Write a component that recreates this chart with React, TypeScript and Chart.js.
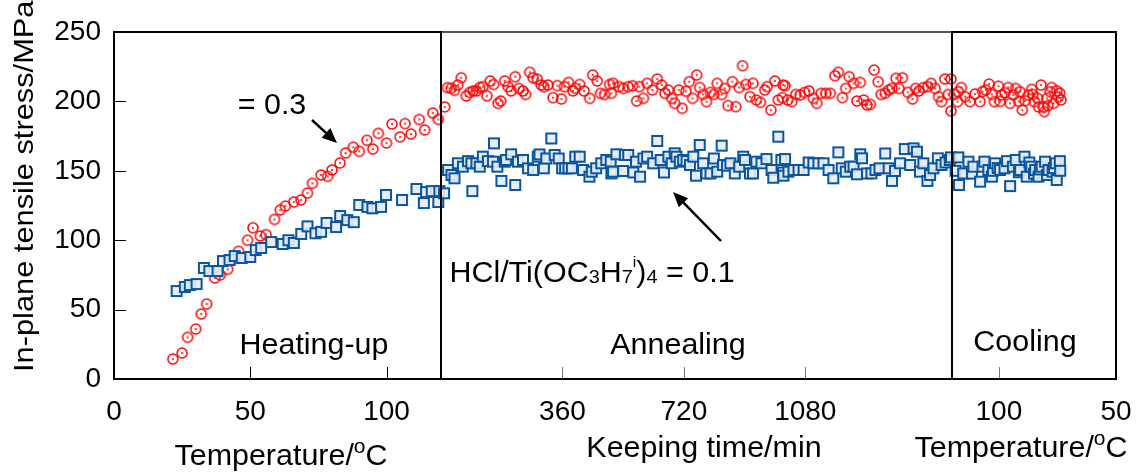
import React, { useEffect, useRef } from 'react';
import { Chart, registerables } from 'chart.js';

Chart.register(...registerables);

const FONT = '"Liberation Sans", Arial, Helvetica, sans-serif';

// ---- axis segments ----
const heatTempMax = 120; // heating-up: 0 -> 120 °C
const annealMinutes = 1515; // annealing: 0 -> 1515 min
const coolTempStart = 120; // cooling: 120 -> 50 °C
const coolTempEnd = 50;
const segW = [327, 511, 164];
const TOTAL = segW[0] + segW[1] + segW[2];

const hx = (T: number) => (T / heatTempMax) * segW[0];
const ax = (t: number) => segW[0] + (t / annealMinutes) * segW[1];
const cx = (T: number) => segW[0] + segW[1] + ((coolTempStart - T) / (coolTempStart - coolTempEnd)) * segW[2];

const xTickLabels = ['0', '50', '100', '360', '720', '1080', '100', '50'];
const xTickValues = [hx(0), hx(50), hx(100), ax(360), ax(720), ax(1080), cx(100), cx(50)];
const yTicks = [0, 50, 100, 150, 200, 250];

// ---- data: HCl/Ti(OC3H7i)4 = 0.3 (red circles) ----
const heatRed: [number, number][] = [
  [21.6, 14.4], [25, 18.7], [27, 30], [30, 36], [32, 46.8], [34, 54], [37, 72.8], [39, 75], [41.7, 79],
  [44, 86.5], [45.7, 92], [49, 100], [51, 109], [53.7, 103], [55.8, 104], [58.9, 115], [61, 121.8],
  [62.9, 124.6], [66, 127.5], [68.6, 129], [71, 134], [72.8, 141], [76, 147], [78.4, 146], [80, 150.6],
  [82.9, 155.6], [85, 162.8], [87.8, 167], [90, 164], [92.8, 172], [95, 165.7], [97, 177], [100, 170],
  [102, 183.7], [105, 174.4], [106.8, 184], [109, 176.5], [112, 187], [114, 179.4], [117, 191.6], [119, 187],
];
const annealRed: [number, number][] = [
  [11, 196], [19, 209.9], [30, 209.4], [40, 208], [50, 211.8], [60, 217], [75, 203.9], [85, 206.5], [95, 207.5],
  [105, 207.5], [115, 210], [124, 210.6], [136, 204], [146, 214.7], [156, 212.2], [169, 198.6], [177, 200.3],
  [189, 214.7], [199, 210.6], [208, 207.5], [220, 217.8], [231, 209.3], [243, 207.5], [251, 205], [263, 221],
  [273, 217], [285, 216], [297, 211.8], [305, 210.6], [317, 211.8], [332, 202.7], [345, 211.4], [357, 201.7],
  [366, 210.6], [378, 213.7], [391, 207.5], [398, 209.4], [411, 212.2], [424, 207.5], [441, 202.2], [450, 219],
  [463, 214.7], [473, 205.8], [485, 205], [500, 212.2], [505, 205.8], [510, 213], [528, 210.6], [540, 209.3],
  [555, 210.6], [568, 211.3], [580, 200.3], [588, 210.6], [600, 202.2], [611, 213], [627, 208.2], [641, 216.1],
  [654, 211.8], [664, 205.8], [674, 208.2], [684, 202.2], [693, 198.6], [705, 208.2], [715, 195], [726, 207.3],
  [736, 214.2], [746, 202.2], [758, 219], [767, 210], [777, 205], [787, 199.8], [799, 206.5], [809, 205],
  [819, 213], [832, 205], [841, 209.3], [851, 197], [864, 214.2], [874, 196.2], [884, 210], [894, 225.7],
  [904, 212.2], [916, 203.4], [925, 213], [935, 201], [947, 199.3], [960, 208.2], [967, 210.6], [978, 193.8],
  [990, 214.7], [1000, 201], [1012, 202.7], [1014, 211.8], [1020, 211.3], [1028, 201], [1040, 199.8],
  [1052, 205], [1065, 204.6], [1078, 206.5], [1091, 207.5], [1104, 202.2], [1114, 198.6], [1127, 205.8],
  [1141, 205.8], [1154, 205.8], [1168, 218.5], [1178, 221], [1190, 202.7], [1200, 209.3], [1210, 217.8],
  [1223, 213], [1233, 200.3], [1243, 213.7], [1253, 201], [1263, 197.4], [1273, 197.9], [1284, 222.6],
  [1296, 214.2], [1305, 205], [1317, 205.8], [1327, 208.2], [1337, 209.3], [1349, 216.6], [1358, 209.3],
  [1368, 217], [1384, 206.5], [1398, 201.7], [1407, 209.3], [1417, 207.5], [1430, 210], [1443, 210.6],
  [1453, 213], [1465, 209.3], [1475, 203.4], [1484, 199.8], [1494, 216.1], [1504, 205], [1512, 216.1], [1512, 193],
];
const coolRed: [number, number][] = [
  [119, 205], [117.6, 199.8], [117.3, 207], [116, 210], [114.4, 203.4], [112.3, 199.8], [110.2, 205.3],
  [108, 199.8], [107, 207], [105.6, 208.2], [104.2, 212.5], [103, 205], [101.9, 199.8], [100.2, 211],
  [99.5, 200], [98.8, 204.6], [97.4, 206.3], [96, 210], [95.2, 198.6], [93.8, 204.6], [92.8, 209.3],
  [91.5, 200], [90.9, 207], [90, 193.8], [88.8, 200.5], [87.4, 204.6], [86, 208.7], [85.5, 205], [84.8, 199.8],
  [83.4, 202.2], [83, 196], [82, 211.8], [81, 195.7], [80.6, 192.6], [79.5, 202.2], [79, 197], [78.1, 207],
  [77.5, 210], [76.7, 198.6], [75.3, 207.7], [74.6, 203], [74, 206], [73.5, 201],
];

// ---- data: HCl/Ti(OC3H7i)4 = 0.1 (blue squares) ----
const heatBlue: [number, number][] = [
  [23, 63.4], [26, 66.3], [27.8, 67.7], [30.3, 68.4], [33, 80], [35, 77.8], [38, 77.8], [40, 85], [42.4, 85.7],
  [44.3, 88.6], [46.9, 87.2], [50, 87.9], [52, 92.9], [54, 94.4], [57.7, 98.7], [61.9, 97.3], [64, 100],
  [66, 98], [68.7, 104.5], [71, 110], [73.9, 105], [76, 106], [78, 112.4], [81.5, 109.5], [83, 117.4],
  [85.6, 114.5], [88, 113], [90, 125.4], [93, 124], [94.8, 123], [98, 124], [99.8, 132.6], [105.7, 129],
  [111, 136.9], [113.7, 126.8], [114.5, 134.7], [116.6, 135.4], [119, 127.5], [119.4, 135.4],
];
const annealBlue: [number, number][] = [
  [9, 133.8], [21, 150.6], [31, 147], [40, 144.6], [50, 155.4], [65, 153], [80, 157], [90, 155.4], [93, 135.4],
  [105, 155.4], [115, 153], [124, 160.2], [139, 157], [154, 156.6], [157, 169.8], [167, 153], [179, 142.7],
  [189, 156.6], [193, 157.8], [208, 161.9], [220, 139.8], [228, 156.6], [243, 157.8], [258, 151.8], [273, 150.6],
  [287, 160.2], [292, 161.8], [305, 151.8], [312, 158.9], [327, 173.3], [337, 161.4], [349, 158.9], [359, 151.8],
  [368, 151.8], [378, 151.8], [388, 151.8], [398, 160.2], [411, 160.2], [421, 150.6], [440, 145.8], [447, 149.4],
  [460, 151.8], [475, 155.4], [490, 157.8], [503, 156.6], [505, 148.1], [510, 149.4], [520, 161.9], [540, 149.9],
  [545, 161.4], [555, 161.4], [570, 148.8], [578, 156.6], [590, 145.8], [600, 158.9], [611, 160.2], [629, 155.4],
  [641, 171.5], [651, 157.8], [661, 148.8], [674, 160.2], [684, 155.4], [693, 162.6], [698, 160.2], [708, 156.6],
  [718, 157.8], [728, 157], [738, 154.2], [748, 160.2], [756, 146.5], [767, 168.6], [777, 155.4], [787, 148.1],
  [799, 148.1], [809, 158.9], [819, 149.4], [832, 168.1], [836, 154.2], [848, 153.7], [858, 155.4], [871, 148.1],
  [884, 153], [896, 160.2], [901, 157.8], [916, 148.1], [925, 148.1], [935, 156.6], [950, 155.4], [965, 158.5],
  [980, 150.6], [985, 145], [1000, 174.6], [1009, 157.8], [1014, 148.8], [1015, 146.5], [1020, 158.5],
  [1030, 149.4], [1045, 150.6], [1060, 150.6], [1075, 150.6], [1090, 156], [1104, 155.4], [1119, 155.4],
  [1134, 155.4], [1149, 150.6], [1163, 144.6], [1178, 163.3], [1188, 151.8], [1200, 149.4], [1213, 153],
  [1223, 153], [1233, 147.5], [1243, 161.9], [1248, 159], [1263, 148.1], [1276, 148.1], [1288, 150.6],
  [1300, 151.8], [1317, 162.5], [1327, 151.8], [1337, 142.7], [1346, 149.9], [1361, 155.4], [1375, 165.7],
  [1391, 154.2], [1401, 166.2], [1411, 163.8], [1420, 149.4], [1430, 155.4], [1442, 142.7], [1450, 147],
  [1460, 151.8], [1473, 159], [1484, 154.2], [1496, 156], [1508, 157.8], [1512, 159.7],
];
const coolBlue: [number, number][] = [
  [118.5, 150], [117.3, 159.7], [117, 139.8], [115.2, 148.1], [113, 156.6], [111.5, 148], [110.9, 153],
  [108, 142.2], [107, 153], [106.2, 156.6], [104.5, 150.6], [103, 145.8], [102.5, 150], [101.6, 155.4],
  [100.5, 152], [99.5, 150.6], [97.6, 151.8], [96.5, 157], [95.2, 139], [94, 153], [92.8, 157.8], [91.5, 149],
  [90.9, 150.6], [89.1, 160.2], [88.1, 145.8], [87, 156], [86.2, 153], [85, 148], [84.5, 150.6], [83.1, 145.8],
  [82.5, 151], [81.7, 153], [80.3, 156.6], [79.5, 147], [78.8, 150.6], [77.1, 149.4], [76.5, 152], [75.7, 155.4],
  [75.3, 143.4], [74, 157], [73.8, 150],
];

const RED = '#ff0000';
const BLUE = '#0a55a0';

function makeCircleMarker(): HTMLCanvasElement {
  const c = document.createElement('canvas');
  c.width = 14; c.height = 14;
  const g = c.getContext('2d')!;
  g.strokeStyle = RED; g.lineWidth = 1.5;
  g.beginPath(); g.arc(7, 7, 5.0, 0, Math.PI * 2); g.stroke();
  g.fillStyle = RED;
  g.beginPath(); g.arc(7, 7, 1.0, 0, Math.PI * 2); g.fill();
  return c;
}
function makeSquareMarker(): HTMLCanvasElement {
  const c = document.createElement('canvas');
  c.width = 14; c.height = 14;
  const g = c.getContext('2d')!;
  g.fillStyle = 'rgba(228,235,245,0.9)';
  g.fillRect(2, 2, 10, 10);
  g.strokeStyle = BLUE; g.lineWidth = 2;
  g.strokeRect(2, 2, 10, 10);
  return c;
}

type Piece = { t: string; s: number; dy?: number };

function drawPieces(ctx: CanvasRenderingContext2D, pieces: Piece[], centerX: number, baseline: number, sx = 1.05) {
  ctx.save();
  let total = 0;
  const widths = pieces.map((p) => {
    ctx.font = `${p.s}px ${FONT}`;
    const w = ctx.measureText(p.t).width * sx;
    total += w;
    return w;
  });
  let x = centerX - total / 2;
  ctx.fillStyle = '#000';
  ctx.textBaseline = 'alphabetic';
  ctx.textAlign = 'left';
  pieces.forEach((p, i) => {
    ctx.save();
    ctx.font = `${p.s}px ${FONT}`;
    ctx.translate(x, baseline + (p.dy || 0));
    ctx.scale(sx, 1);
    ctx.fillText(p.t, 0, 0);
    ctx.restore();
    x += widths[i];
  });
  ctx.restore();
}

function drawArrow(ctx: CanvasRenderingContext2D, x0: number, y0: number, x1: number, y1: number) {
  const ang = Math.atan2(y1 - y0, x1 - x0);
  const hl = 15, hw = 6.5;
  const bx = x1 - hl * Math.cos(ang), by = y1 - hl * Math.sin(ang);
  ctx.save();
  ctx.strokeStyle = '#000'; ctx.fillStyle = '#000'; ctx.lineWidth = 2.5;
  ctx.beginPath(); ctx.moveTo(x0, y0); ctx.lineTo(bx, by); ctx.stroke();
  ctx.beginPath();
  ctx.moveTo(x1, y1);
  ctx.lineTo(bx + hw * Math.sin(ang), by - hw * Math.cos(ang));
  ctx.lineTo(bx - hw * Math.sin(ang), by + hw * Math.cos(ang));
  ctx.closePath(); ctx.fill();
  ctx.restore();
}

const overlayPlugin = {
  id: 'overlay',
  afterDatasetsDraw(chart: any) {
    const ctx: CanvasRenderingContext2D = chart.ctx;
    const xs = chart.scales.x, ys = chart.scales.y;
    const L = xs.getPixelForValue(0), R = xs.getPixelForValue(TOTAL);
    const T = ys.getPixelForValue(250), B = ys.getPixelForValue(0);
    const s1 = xs.getPixelForValue(segW[0]);
    const s2 = xs.getPixelForValue(segW[0] + segW[1]);
    ctx.save();
    // inward tick marks
    ctx.lineWidth = 1;
    ctx.strokeStyle = '#000';
    yTicks.slice(1, -1).forEach((v) => {
      const y = Math.round(ys.getPixelForValue(v)) + 0.5;
      ctx.beginPath(); ctx.moveTo(L, y); ctx.lineTo(L + 12, y); ctx.stroke();
    });
    xTickValues.slice(1, -1).forEach((v, i) => {
      const x = Math.round(xs.getPixelForValue(v)) + 0.5;
      ctx.strokeStyle = i < 2 ? '#000' : '#777';
      ctx.beginPath(); ctx.moveTo(x, B); ctx.lineTo(x, B - 12); ctx.stroke();
    });
    // frame
    ctx.lineWidth = 2;
    ctx.strokeStyle = '#000';
    ctx.strokeRect(L, T, R - L, B - T);
    ctx.strokeStyle = '#555';
    ctx.beginPath(); ctx.moveTo(s1, T); ctx.lineTo(s2, T); ctx.stroke();
    ctx.strokeStyle = '#000';
    [s1, s2].forEach((x) => {
      ctx.beginPath(); ctx.moveTo(x, T - 1); ctx.lineTo(x, B + 1); ctx.stroke();
    });
    ctx.restore();
  },
  afterDraw(chart: any) {
    const ctx: CanvasRenderingContext2D = chart.ctx;
    // y-axis title
    ctx.save();
    ctx.font = `28px ${FONT}`;
    ctx.fillStyle = '#000';
    ctx.textAlign = 'left';
    ctx.textBaseline = 'alphabetic';
    ctx.translate(33, 372);
    ctx.rotate(-Math.PI / 2);
    ctx.scale(1.1, 1);
    ctx.fillText('In-plane tensile stress/MPa', 0, 0);
    ctx.restore();

    // x-axis titles
    drawPieces(ctx, [{ t: 'Temperature/', s: 29 }, { t: 'o', s: 20, dy: -12 }, { t: 'C', s: 29 }], 281, 465);
    drawPieces(ctx, [{ t: 'Keeping time/min', s: 29 }], 704, 457);
    drawPieces(ctx, [{ t: 'Temperature/', s: 29 }, { t: 'o', s: 20, dy: -12 }, { t: 'C', s: 29 }], 1021, 457);

    // phase labels
    drawPieces(ctx, [{ t: 'Heating-up', s: 29 }], 314, 354);
    drawPieces(ctx, [{ t: 'Annealing', s: 29 }], 678, 354);
    drawPieces(ctx, [{ t: 'Cooling', s: 29 }], 1025, 351);

    // annotations
    drawPieces(ctx, [{ t: '= 0.3', s: 29 }], 272, 114);
    drawPieces(ctx, [
      { t: 'HCl/Ti(OC', s: 29 }, { t: '3', s: 19, dy: 1 }, { t: 'H', s: 29 }, { t: '7', s: 19, dy: 1 },
      { t: 'i', s: 15, dy: -15 }, { t: ')', s: 29 }, { t: '4', s: 19, dy: 1 }, { t: ' = 0.1', s: 29 },
    ], 592, 282);
    drawArrow(ctx, 312, 120, 337, 143);
    drawArrow(ctx, 721, 241, 673, 192);
  },
};

export default function App() {
  const ref = useRef<HTMLCanvasElement | null>(null);
  useEffect(() => {
    if (!ref.current) return;
    const circle = makeCircleMarker();
    const square = makeSquareMarker();
    const toPts = (arr: [number, number][], f: (v: number) => number) => arr.map(([a, b]) => ({ x: f(a), y: b }));
    const redPts = [...toPts(heatRed, hx), ...toPts(annealRed, ax), ...toPts(coolRed, cx)];
    const bluePts = [...toPts(heatBlue, hx), ...toPts(annealBlue, ax), ...toPts(coolBlue, cx)];
    const tickFont = { family: FONT, size: 28 };
    const chart = new Chart(ref.current, {
      type: 'scatter',
      data: {
        datasets: [
          { label: 'HCl/Ti(OC3H7i)4 = 0.1', data: bluePts, pointStyle: square as any, pointRadius: 5, showLine: false },
          { label: 'HCl/Ti(OC3H7i)4 = 0.3', data: redPts, pointStyle: circle as any, pointRadius: 5, showLine: false },
        ],
      },
      options: {
        responsive: false,
        animation: false,
        events: [],
        layout: { padding: { left: 0, top: 32, right: 27, bottom: 0 } },
        plugins: { legend: { display: false }, tooltip: { enabled: false } },
        scales: {
          x: {
            type: 'linear',
            min: 0,
            max: TOTAL,
            grid: { display: false, drawTicks: false },
            border: { display: false },
            afterBuildTicks: (s: any) => { s.ticks = xTickValues.map((v) => ({ value: v })); },
            afterFit: (s: any) => { s.height = 93; s.paddingLeft = 0; s.paddingRight = 0; },
            ticks: {
              autoSkip: false,
              maxRotation: 0,
              padding: 16,
              color: '#000',
              font: tickFont,
              callback: (_v: any, i: number) => xTickLabels[i],
            },
          },
          y: {
            type: 'linear',
            min: 0,
            max: 250,
            grid: { display: false, drawTicks: false },
            border: { display: false },
            afterBuildTicks: (s: any) => { s.ticks = yTicks.map((v) => ({ value: v })); },
            afterFit: (s: any) => { s.width = 114; s.paddingTop = 0; s.paddingBottom = 0; },
            ticks: { padding: 13, color: '#000', font: tickFont, callback: (v: any) => String(v) },
          },
        },
      },
      plugins: [overlayPlugin],
    });
    return () => chart.destroy();
  }, []);
  return (
    <div style={{ position: 'fixed', left: 0, top: 0, width: 1143, height: 472, background: '#fff' }}>
      <canvas ref={ref} width={1143} height={472} style={{ display: 'block' }} />
    </div>
  );
}
